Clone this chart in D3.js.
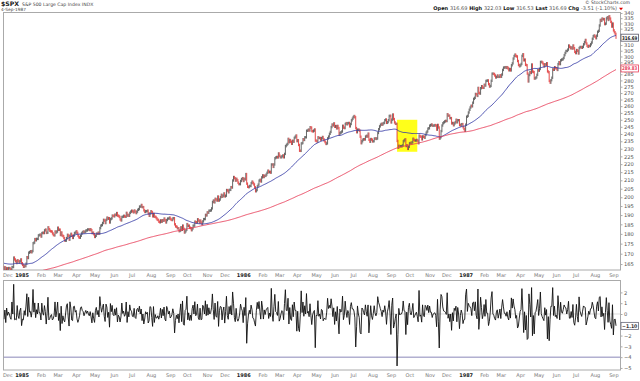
<!DOCTYPE html>
<html><head><meta charset="utf-8">
<script src="https://cdn.jsdelivr.net/npm/d3@7"></script>
<style>
body{margin:0;background:#fff}
svg{display:block;font-family:"DejaVu Sans",Verdana,sans-serif}
</style></head><body>
<svg id="c" width="640" height="381"></svg>
<script>
// ---------------- DATA ----------------
const firstDate = "1984-03-01";
const lastDate = "1987-09-04";
const windowStart = "1984-12-03";
const holidays = ["1984-04-20","1984-05-28","1984-07-04","1984-09-03","1984-11-22","1984-12-25",
"1985-01-01","1985-02-18","1985-04-05","1985-05-27","1985-07-04","1985-09-02","1985-09-27","1985-11-28","1985-12-25",
"1986-01-01","1986-02-17","1986-03-28","1986-05-26","1986-07-04","1986-09-01","1986-11-27","1986-12-25",
"1987-01-01","1987-02-16","1987-04-17","1987-05-25","1987-07-03"];

// daily closes, one line per month (Mar 1984 .. Sep 1987)
const closes = [
157.1,159.2,157.9,156.3,154.6,155.2,154.4,156.3,156.8,156.8,157.4,159.3,157.8,158.9,158.7,156.7,156.9,157.3,158.1,160.9,160.5,159.2,
157.7,155.0,155.5,157.5,159.1,158.6,157.7,157.3,155.0,157.7,158.3,159.9,158.0,159.0,158.8,160.3,161.8,160.6,160.8,160.1,
162.1,161.9,160.7,160.5,160.5,161.9,161.2,159.0,157.5,156.6,157.9,157.0,155.8,153.9,152.8,152.9,151.6,150.3,151.6,151.6,150.3,150.6,
153.2,155.0,154.3,153.6,155.2,152.8,152.1,150.8,149.6,149.0,150.5,152.6,151.2,152.6,151.9,150.4,151.6,152.5,150.8,152.4,153.2,
153.2,153.7,152.8,152.9,150.6,150.5,151.3,150.9,151.6,150.5,150.9,151.4,149.6,149.5,148.9,149.4,147.8,148.8,149.5,151.2,150.7,
154.1,154.1,162.4,162.6,165.3,162.7,164.1,166.1,164.8,165.4,164.4,162.8,162.1,162.8,164.1,165.0,165.1,164.9,167.1,166.4,165.6,166.7,166.7,
164.9,164.3,164.4,164.3,162.7,162.6,164.7,165.7,167.9,168.8,168.8,167.5,165.9,165.7,166.2,166.2,165.3,166.9,166.1,
164.6,163.6,162.4,162.9,162.7,162.7,162.1,162.8,164.2,164.2,168.1,167.7,168.1,170.4,168.7,167.0,166.3,165.3,165.3,164.8,164.8,166.8,166.1,
167.5,167.4,168.6,169.2,167.6,165.6,165.4,165.0,165.0,165.0,163.1,163.1,162.7,162.2,164.2,164.5,166.9,166.3,165.6,164.5,163.6,
162.8,163.4,162.1,163.0,162.8,163.1,163.1,162.6,161.8,163.6,163.6,168.1,167.2,166.4,165.5,166.8,166.5,165.8,166.3,167.2,
165.4,164.6,163.7,164.2,164.0,165.2,168.3,167.9,170.5,170.8,171.2,170.7,171.3,175.2,175.5,177.3,176.7,177.4,177.4,179.2,179.4,179.6,
178.6,180.4,180.6,180.4,181.8,182.2,180.5,180.6,183.4,182.4,181.6,181.3,181.2,180.2,179.4,179.2,181.2,180.7,181.2,
183.2,182.1,182.2,179.4,180.7,179.1,178.8,177.8,176.5,176.5,177.8,179.5,179.0,177.0,179.0,180.0,179.0,177.9,179.1,180.4,180.7,
181.3,180.5,179.1,178.2,178.0,179.0,180.2,180.8,181.2,180.9,181.1,181.7,181.8,182.3,182.3,182.0,182.4,181.9,180.4,180.6,179.8,
178.4,179.0,180.1,180.0,180.6,180.1,183.0,184.3,184.6,185.7,187.4,187.0,185.7,187.4,188.6,188.0,188.3,186.0,187.8,188.2,189.7,189.6,
189.3,190.2,190.0,191.1,189.7,189.5,189.0,187.6,187.1,189.0,189.1,189.6,189.2,189.1,191.2,189.7,190.1,189.6,191.2,191.9,
192.4,192.0,191.5,192.5,191.9,191.1,191.9,192.9,193.3,194.7,194.7,195.6,194.4,194.4,192.6,191.7,192.1,192.1,192.4,190.8,189.6,190.9,
192.1,191.5,189.3,190.6,189.1,189.0,188.3,187.6,187.3,186.4,186.1,187.1,186.4,187.2,186.9,188.1,187.2,186.0,187.3,188.1,188.1,188.6,
187.9,187.4,187.3,188.2,188.3,185.0,183.9,183.7,182.9,182.9,181.4,181.7,183.4,182.1,184.3,182.6,180.7,181.3,182.1,
185.1,184.1,184.3,183.2,183.0,181.9,182.8,184.3,184.3,186.4,186.1,186.0,187.7,187.0,186.0,187.0,186.0,185.1,186.6,187.8,187.8,190.1,189.8,
191.5,191.3,192.4,192.4,192.6,193.7,197.3,198.1,197.1,199.1,198.7,198.1,200.4,198.1,198.7,200.1,201.4,200.3,200.9,202.2,
200.5,200.9,204.2,203.9,202.9,204.3,204.3,205.9,205.7,209.9,212.0,211.3,209.8,210.9,210.0,208.6,207.7,207.7,209.6,210.7,211.3,
209.6,210.9,210.6,213.8,208.0,206.1,205.9,206.6,206.6,208.3,209.2,208.4,207.5,205.8,203.5,204.2,206.4,207.4,209.8,210.3,209.3,211.8,
213.0,212.0,212.8,212.7,213.5,214.6,215.9,215.0,215.2,214.7,219.8,219.8,218.3,219.8,223.8,224.3,224.6,224.3,226.9,
225.4,224.4,224.4,225.1,225.6,224.4,226.6,231.7,232.5,233.2,236.6,234.4,235.8,234.7,233.3,235.3,234.7,237.3,238.1,238.9,
235.1,235.7,232.5,228.7,228.6,233.5,233.8,236.4,235.9,237.7,237.7,242.2,242.4,243.0,242.4,244.7,244.4,242.0,241.8,242.3,243.1,235.5,
235.2,234.8,237.7,237.2,237.2,236.1,237.1,237.9,236.4,235.4,234.4,233.2,233.6,237.0,238.2,240.1,241.4,244.8,246.6,246.0,247.4,
245.0,245.5,243.9,245.6,244.1,239.6,240.7,241.1,241.7,245.7,244.4,244.1,247.0,247.6,246.8,247.6,247.7,245.3,247.0,249.6,250.8,
252.0,252.7,251.8,244.1,241.2,243.0,243.0,242.2,238.1,233.7,235.0,236.1,236.4,236.2,238.2,238.7,238.2,240.2,236.0,234.7,236.5,236.1,
234.9,235.0,236.8,237.0,236.6,236.9,240.7,243.3,245.3,246.5,247.1,246.5,247.4,247.8,249.7,250.2,247.8,248.3,249.7,252.8,252.9,
248.1,250.1,253.8,250.5,248.1,247.1,247.1,235.2,230.7,231.9,231.7,231.7,231.7,232.2,235.0,235.7,236.3,231.8,232.2,229.9,231.3,
233.6,233.9,233.7,234.4,236.7,235.9,235.5,235.5,235.9,235.4,233.7,238.8,238.3,238.1,236.3,238.3,238.0,237.4,239.3,240.9,241.7,243.7,244.0,
245.8,246.2,246.6,245.8,245.8,245.9,246.2,245.9,243.0,246.3,244.5,236.8,237.7,242.0,245.9,247.5,248.2,248.8,249.2,
249.1,254.0,253.0,253.0,251.2,251.2,247.4,247.7,246.1,247.4,248.2,250.0,248.2,249.7,249.7,246.3,245.9,246.8,246.9,244.7,243.4,242.2,
246.5,252.2,252.8,255.3,257.3,259.0,260.3,259.9,262.6,265.5,266.3,269.3,269.0,267.8,274.0,270.1,269.6,273.8,275.4,274.2,274.1,
276.5,275.9,279.6,279.8,280.0,277.0,275.1,275.6,279.7,285.5,285.5,285.2,284.0,282.4,282.9,284.0,282.9,282.9,284.2,
283.0,284.8,288.6,290.5,290.7,290.9,290.3,290.9,289.9,288.3,289.3,288.2,292.5,294.1,298.2,300.4,301.6,300.4,300.0,296.1,292.8,291.7,
292.4,293.6,300.5,301.9,296.7,297.3,292.9,292.5,285.6,279.2,284.4,286.9,286.1,293.1,287.2,286.8,281.5,281.8,282.5,284.6,288.4,
288.0,289.4,295.3,295.4,294.7,293.4,291.6,293.3,293.0,294.2,287.4,286.7,279.6,278.2,280.2,282.2,289.1,288.7,290.8,290.1,
289.8,288.6,293.5,295.1,293.5,296.7,297.3,297.5,298.7,301.2,303.1,304.8,304.8,306.0,309.6,308.4,307.2,307.9,306.9,309.6,307.2,304.0,
302.9,305.6,304.9,302.6,307.4,308.3,308.3,307.6,308.4,310.7,312.7,314.6,311.4,309.3,308.5,309.3,309.2,310.7,312.3,315.7,318.1,318.7,
317.6,316.2,318.5,322.1,323.0,328.0,333.3,332.4,334.6,333.9,334.1,329.3,329.8,334.8,335.9,333.3,336.8,334.6,331.4,327.0,329.8,
323.4,321.7,320.2,316.7
];

const priceTicks = [165,170,175,180,185,190,195,200,205,210,215,220,225,230,235,240,245,250,255,260,265,270,275,280,285,290,295,300,305,310,315,320,325,330,335,340];
const rocTicks = [2,1,0,-1,-2,-3,-4,-5];
const monthNames = ["Jan","Feb","Mar","Apr","May","Jun","Jul","Aug","Sep","Oct","Nov","Dec"];
const lastClose = 316.69;
const lastSma200 = 289.83;
const lastRoc = -1.10;
const highlight = {from:"1986-09-11", to:"1986-10-14", low:228, high:250};
const title = {sym:"$SPX", name:"S&P 500 Large Cap Index  INDX", date:"4-Sep-1987"};
const quote = [["Open","316.69"],["High","322.03"],["Low","316.53"],["Last","316.69"],["Chg","-3.51 (-1.10%)"]];

// ---------------- BUILD ----------------
const hol = new Set(holidays);
let dates = [];
const endT = Date.parse(lastDate+"T00:00:00Z");
for (let d = new Date(firstDate+"T00:00:00Z"); d.getTime() <= endT; d.setUTCDate(d.getUTCDate()+1)) {
  const wd = d.getUTCDay(); const k = d.toISOString().slice(0,10);
  if (wd===0 || wd===6 || hol.has(k)) continue;
  dates.push(k);
}
const n = Math.min(dates.length, closes.length);
dates = dates.slice(dates.length-n);
const cl = closes.slice(closes.length-n);
function sma(g, p){ if (g < p-1) return null; let s=0; for(let j=g-p+1;j<=g;j++) s+=cl[j]; return s/p; }
const g0 = dates.findIndex(d => d >= windowStart);
const rows = [];
for (let g=g0; g<n; g++) {
  rows.push({i:g-g0, date:dates[g], c:cl[g], p:cl[g-1], s50:sma(g,50), s200:sma(g,200), roc:(cl[g]/cl[g-1]-1)*100});
}

// ---------------- DRAW ----------------
const svg = d3.select("#c");
const L=3.5, R=620.5, T=12.5, B=270, T2=280.5, B2=370;
const x = d3.scaleLinear().domain([0, rows.length-1]).range([4, 616]);
const y = d3.scaleLog().domain([162.2, 341.0]).range([B, T-0.5]);
const y2 = d3.scaleLinear().domain([-5.19, 3.15]).range([B2, T2-0.5]);

svg.append("defs").html(
 `<clipPath id="cp1"><rect x="${L}" y="${T}" width="${R-L}" height="${B-T}"/></clipPath>
  <clipPath id="cp2"><rect x="${L}" y="${T2}" width="${R-L}" height="${B2-T2}"/></clipPath>`);

// header
const h = svg.append("g").attr("fill","#222");
h.append("text").attr("x",1).attr("y",6.3).attr("font-size",6.2).attr("font-weight","bold").text(title.sym);
h.append("text").attr("x",22).attr("y",6.1).attr("font-size",4.6).attr("fill","#444").text(title.name);
h.append("text").attr("x",1).attr("y",10.8).attr("font-size",4.3).attr("fill","#444").text(title.date);
h.append("text").attr("x",630).attr("y",4.4).attr("font-size",4.6).attr("fill","#444").attr("text-anchor","end").text("© StockCharts.com");
const q = h.append("text").attr("x",617).attr("y",10.2).attr("font-size",5).attr("text-anchor","end");
quote.forEach(([k,v],j)=>{
  q.append("tspan").attr("font-weight","bold").attr("fill","#111").text((j?"  ":"")+k+" ");
  q.append("tspan").attr("fill","#555").text(v);
});
h.append("path").attr("d","M619,7.8 L623,7.8 L621,10.2 Z").attr("fill","#d00");

// panels
svg.append("rect").attr("x",L).attr("y",T).attr("width",R-L).attr("height",B-T).attr("fill","#fff").attr("stroke","#aaa").attr("stroke-width",1);
svg.append("rect").attr("x",L).attr("y",T2).attr("width",R-L).attr("height",B2-T2).attr("fill","#fff").attr("stroke","#aaa").attr("stroke-width",1);

// highlight
const hiA = rows.find(r=>r.date>=highlight.from), hiB = rows.find(r=>r.date>=highlight.to);
svg.append("rect").attr("clip-path","url(#cp1)")
  .attr("x",x(hiA.i)).attr("width",x(hiB.i)-x(hiA.i))
  .attr("y",y(highlight.high)).attr("height",y(highlight.low)-y(highlight.high))
  .attr("fill","#ffff1a");

// price bars
const pg = svg.append("g").attr("clip-path","url(#cp1)");
pg.selectAll("line").data(rows).join("line")
  .attr("x1",d=>x(d.i)).attr("x2",d=>x(d.i))
  .attr("y1",d=>y(Math.max(d.c,d.p))-1.2).attr("y2",d=>y(Math.min(d.c,d.p))+1.2)
  .attr("stroke",d=>d.c>=d.p?"#555":"#e03535").attr("stroke-width",0.9);

// moving averages
const l50 = d3.line().defined(d=>d.s50!=null).x(d=>x(d.i)).y(d=>y(d.s50));
const l200 = d3.line().defined(d=>d.s200!=null).x(d=>x(d.i)).y(d=>y(d.s200));
pg.append("path").attr("d",l50(rows)).attr("fill","none").attr("stroke","#3a3fa8").attr("stroke-width",0.9);
pg.append("path").attr("d",l200(rows)).attr("fill","none").attr("stroke","#e8405a").attr("stroke-width",0.9);

// price axis
const boxes = [lastClose, lastSma200];
const ax = svg.append("g").attr("transform",`translate(${R},0)`)
  .call(d3.axisRight(y).tickValues(priceTicks.filter(t=>boxes.every(b=>Math.abs(y(t)-y(b))>5))).tickSize(2).tickPadding(1.5).tickFormat(d3.format("d")));
ax.select(".domain").remove();
ax.selectAll("line").attr("stroke","#aaa");
ax.selectAll("text").attr("font-size",5.2).attr("fill","#555").attr("font-family","DejaVu Sans");

function valBox(yy, txt, col, fill){
  const g = svg.append("g");
  g.append("rect").attr("x",R+0.5).attr("y",yy-3.5).attr("width",17.5).attr("height",7).attr("fill","#fff").attr("stroke",col).attr("stroke-width",0.8);
  g.append("text").attr("x",R+1.6).attr("y",yy+1.9).attr("font-size",5).attr("font-weight","bold").attr("fill",fill)
    .attr("textLength",15.2).attr("lengthAdjust","spacingAndGlyphs").text(txt);
}
valBox(y(lastClose), d3.format(".2f")(lastClose), "#556", "#111");
valBox(y(lastSma200), d3.format(".2f")(lastSma200), "#e8405a", "#e8405a");

// lower panel
const lg = svg.append("g").attr("clip-path","url(#cp2)");
lg.append("line").attr("x1",L).attr("x2",R).attr("y1",y2(0)).attr("y2",y2(0)).attr("stroke","#ccc").attr("stroke-width",0.7);
lg.append("line").attr("x1",L).attr("x2",R).attr("y1",y2(-4)).attr("y2",y2(-4)).attr("stroke","#8a88b8").attr("stroke-width",1);
lg.append("path").attr("d",d3.line().x(d=>x(d.i)).y(d=>y2(d.roc))(rows)).attr("fill","none").attr("stroke","#111").attr("stroke-width",0.9);

const ax2 = svg.append("g").attr("transform",`translate(${R},0)`)
  .call(d3.axisRight(y2).tickValues(rocTicks.filter(t=>Math.abs(y2(t)-y2(lastRoc))>5)).tickSize(2).tickPadding(1.5).tickFormat(d3.format("d")));
ax2.select(".domain").remove();
ax2.selectAll("line").attr("stroke","#aaa");
ax2.selectAll("text").attr("font-size",5.2).attr("fill","#555").attr("font-family","DejaVu Sans");
valBox(y2(lastRoc), d3.format(".2f")(lastRoc), "#667", "#333");

// month axes
const mt = rows.filter((r,k)=> k===0 || r.date.slice(5,7)!==rows[k-1].date.slice(5,7));
const mIdx = mt.map(r=>r.i);
const mLab = new Map(mt.map(r=>[r.i, r.date.slice(5,7)==="01" ? r.date.slice(0,4) : monthNames[+r.date.slice(5,7)-1]]));
function monthAxis(yy){
  const a = svg.append("g").attr("transform",`translate(0,${yy})`)
    .call(d3.axisBottom(x).tickValues(mIdx).tickSize(0).tickPadding(3.4).tickFormat(i=>mLab.get(i)));
  a.select(".domain").remove();
  a.selectAll("text").attr("font-size",5).attr("font-family","DejaVu Sans")
    .attr("font-weight",i=>/^\d/.test(mLab.get(i))?"bold":"normal")
    .attr("fill",i=>/^\d/.test(mLab.get(i))?"#222":"#777")
    .attr("text-anchor",i=>i===0?"start":"middle")
    .attr("dx",i=>i===0?-1.5:0);
}
monthAxis(B);
monthAxis(B2);
</script>
</body></html>
